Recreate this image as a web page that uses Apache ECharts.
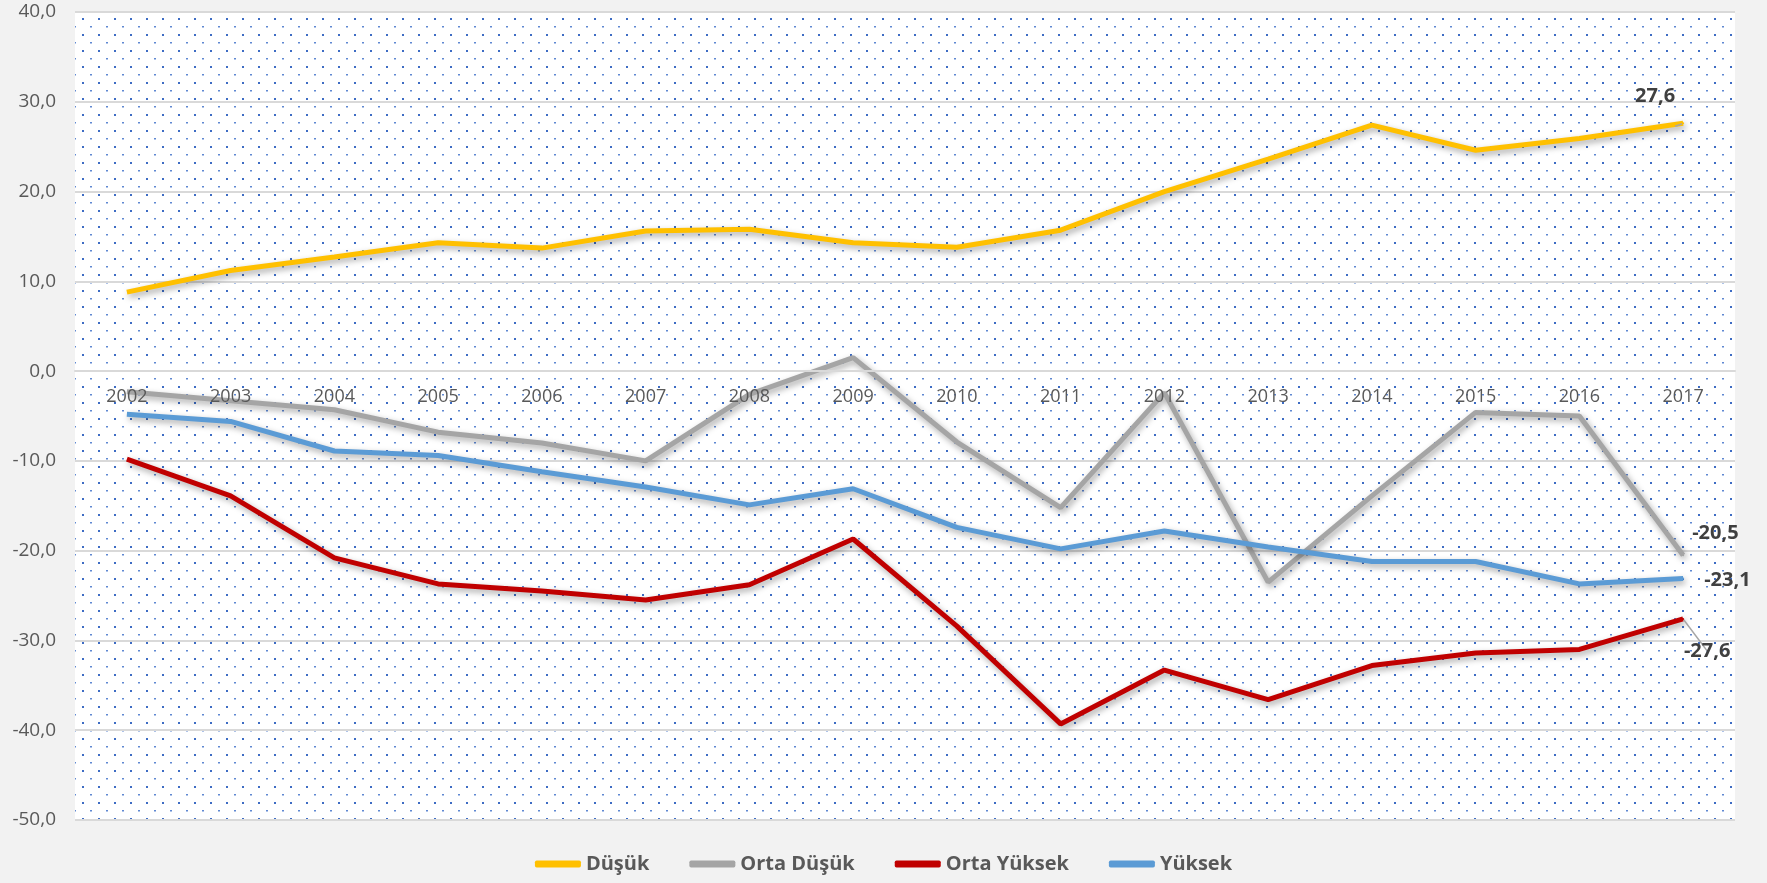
<!DOCTYPE html>
<html>
<head>
<meta charset="utf-8">
<script src="https://cdn.jsdelivr.net/npm/echarts@6/dist/echarts.min.js"></script>
<style>
  html, body { margin: 0; padding: 0; background: #f2f2f2; }
  #main { width: 1767px; height: 883px; }
</style>
</head>
<body>
<div id="main"></div>
<script>
// years on the x axis
const years = ["2002", "2003", "2004", "2005", "2006", "2007", "2008", "2009",
  "2010", "2011", "2012", "2013", "2014", "2015", "2016", "2017"];

// series values
const dusuk = [8.8, 11.2, 12.7, 14.3, 13.7, 15.6, 15.8, 14.3, 13.8, 15.7, 20.0, 23.6, 27.4, 24.6, 25.9, 27.6];
const ortaDusuk = [-2.3, -3.3, -4.3, -6.8, -8.0, -10.0, -2.6, 1.5, -7.9, -15.2, -2.4, -23.5, -13.9, -4.6, -5.0, -20.5];
const ortaYuksek = [-9.8, -13.9, -20.8, -23.7, -24.5, -25.5, -23.8, -18.7, -28.4, -39.3, -33.3, -36.6, -32.8, -31.4, -31.0, -27.6];
const yuksek = [-4.8, -5.6, -8.9, -9.4, -11.2, -12.9, -14.9, -13.1, -17.4, -19.8, -17.8, -19.6, -21.2, -21.2, -23.7, -23.1];

const fmt = (v) => v.toFixed(1).replace(".", ",");

// dotted fill of the plot area
function dotPattern() {
  const c = document.createElement("canvas");
  c.width = 16; c.height = 16;
  const g = c.getContext("2d");
  g.fillStyle = "#ffffff";
  g.fillRect(0, 0, 16, 16);
  g.fillStyle = "#3d6cc4";
  g.fillRect(2, 2, 2, 2);
  g.fillStyle = "#5f88d2";
  g.fillRect(10, 10, 2, 1.5);
  return c;
}

// put a label on the last point only
function withLastLabel(values, label, guide) {
  return values.map((v, i) => {
    if (i !== values.length - 1) return v;
    return {
      value: v,
      symbol: "circle",
      symbolSize: 2,
      label: Object.assign({ show: true, formatter: (p) => fmt(p.value) }, label),
      labelLine: { show: guide }
    };
  });
}

const labelFont = { fontFamily: "Open Sans", fontSize: 20, fontWeight: "bold", color: "#404040" };

function lineSeries(name, color, values, label, guide) {
  return {
    name: name,
    type: "line",
    symbol: "none",
    showSymbol: true,
    lineStyle: {
      width: 5,
      color: color,
      shadowColor: "rgba(0,0,0,0.35)",
      shadowBlur: 6,
      shadowOffsetX: 2,
      shadowOffsetY: 3
    },
    itemStyle: { color: color },
    label: Object.assign({ show: false }, labelFont),
    labelLine: { show: guide, lineStyle: { color: "#a6a6a6", width: 1.5 } },
    data: withLastLabel(values, label, guide)
  };
}

const myChart = echarts.init(document.getElementById("main"));
myChart.setOption({
  backgroundColor: "#f2f2f2",
  animation: false,
  grid: {
    left: 75, right: 32, top: 12, bottom: 63,
    show: true,
    borderWidth: 0,
    backgroundColor: { image: dotPattern(), repeat: "repeat" }
  },
  legend: {
    bottom: 4,
    left: "center",
    icon: "roundRect",
    itemWidth: 46,
    itemHeight: 7,
    itemGap: 40,
    textStyle: { fontFamily: "Open Sans", fontSize: 20, fontWeight: "bold", color: "#595959" },
    data: ["Düşük", "Orta Düşük", "Orta Yüksek", "Yüksek"]
  },
  xAxis: {
    type: "category",
    data: years,
    z: 5,
    // the axis sits on the zero line (371px), grid bottom is at 820px
    offset: -449,
    axisLine: { show: true, onZero: false, lineStyle: { color: "#d9d9d9", width: 2 } },
    axisTick: { show: false },
    axisLabel: { interval: 0, margin: 17, fontFamily: "Open Sans", fontSize: 18, color: "#595959" }
  },
  yAxis: {
    type: "value",
    min: -50,
    max: 40,
    interval: 10,
    axisLine: { show: false },
    axisTick: { show: false },
    splitLine: { lineStyle: { color: "#d9d9d9", width: 2 } },
    axisLabel: { margin: 19, fontFamily: "Open Sans", fontSize: 19, color: "#595959", formatter: fmt }
  },
  series: [
    lineSeries("Düşük", "#ffc000", dusuk, { position: "top", offset: [-28, -11] }, true),
    lineSeries("Orta Düşük", "#a5a5a5", ortaDusuk, { position: "right", offset: [3, -22] }, false),
    lineSeries("Orta Yüksek", "#c00000", ortaYuksek, { position: "bottom", offset: [24, 16] }, true),
    lineSeries("Yüksek", "#5b9bd5", yuksek, { position: "right", offset: [15, 2] }, false)
  ]
});
window.onresize = function () {
  myChart.resize();
};
</script>
</body>
</html>
